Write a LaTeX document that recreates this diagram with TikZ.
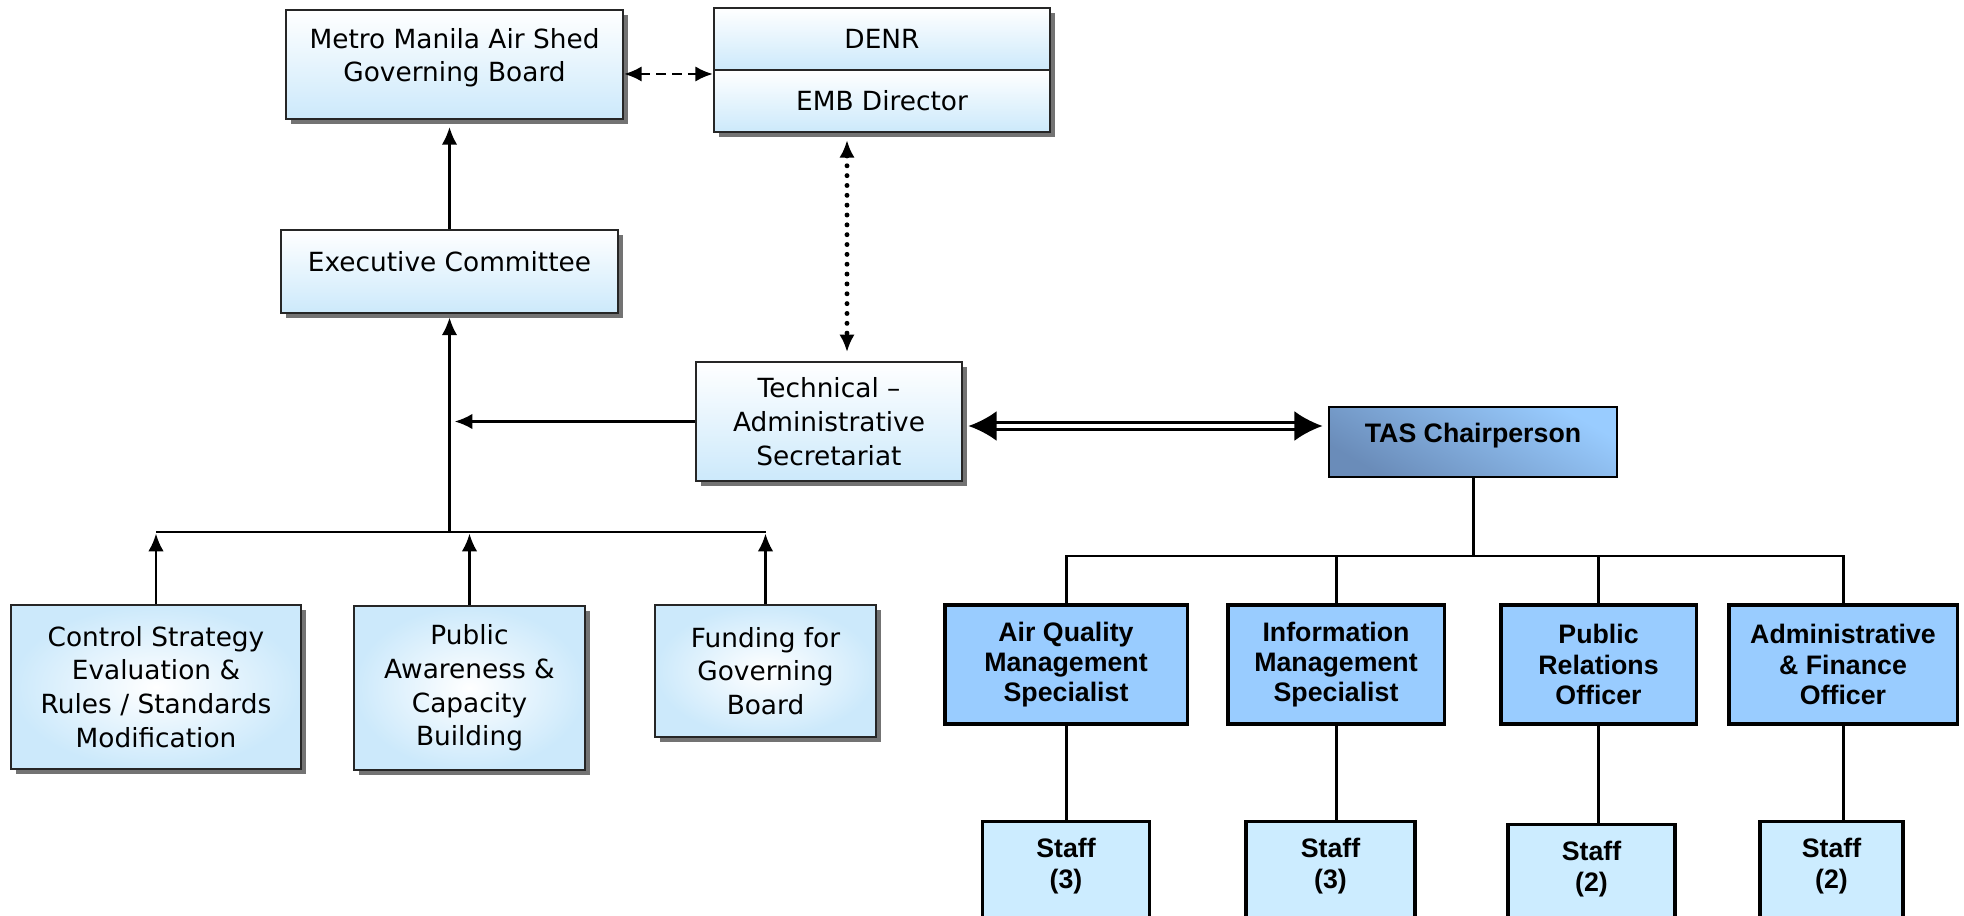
\documentclass[tikz,border=0pt]{standalone}
\usepackage{fontspec}
\setmainfont{DejaVu Sans}
\newfontfamily\arialfont{Liberation Sans}
\usetikzlibrary{arrows.meta,shadows,positioning}

\definecolor{paleblue}{HTML}{CCE9FB}
\definecolor{skyblue}{HTML}{99CCFF}
\definecolor{staffblue}{HTML}{CCECFF}
\definecolor{steelblue}{HTML}{6A8CB9}

\tikzset{
  board/.style={draw=black!85, line width=0.6pt, top color=white, bottom color=paleblue,
    drop shadow={shadow xshift=0.05cm, shadow yshift=-0.05cm, fill=black!55, opacity=1},
    align=center, inner sep=0pt, font=\fontsize{7.5}{9.6}\selectfont},
  panel/.style={board, inner color=white, outer color=paleblue},
  post/.style={draw, line width=0.9pt, fill=skyblue, align=center, inner sep=0pt,
    font=\arialfont\bfseries\fontsize{7.6}{8.6}\selectfont},
  chair/.style={post, line width=0.6pt, top color=skyblue, bottom color=steelblue, shading angle=-30},
  staffbox/.style={post, fill=staffblue, anchor=north, inner ysep=0.17cm, text depth=1cm},
  link/.style={line width=0.6pt},
  feed/.style={link, ->},
  tie/.style={line width=0.85pt},
}

\begin{document}
\begin{tikzpicture}[x=0.01cm, y=-0.01cm, >={Latex[length=5pt,width=4.4pt]}]
    \useasboundingbox (0,0) rectangle (1964,916);
    \clip (0,0) rectangle (1964,916);

    % governing side
    \node[board, minimum width=3.37cm, minimum height=1.09cm, text depth=0.19cm] (metro) at (454.5,64.5) {Metro Manila Air Shed\\Governing Board};
    \node[board, minimum width=3.36cm, minimum height=0.62cm] (denr) at (882,39) {DENR};
    \node[board, minimum width=3.36cm, minimum height=0.62cm] (emb) at (882,101) {EMB Director};
    \node[board, minimum width=3.37cm, minimum height=0.83cm, text depth=0.21cm] (exec) at (449.5,271.5) {Executive Committee};
    \node[board, minimum width=2.66cm, minimum height=1.19cm] (tech) at (829,421.5) {Technical --\\Administrative\\Secretariat};
    \node[panel, minimum width=2.90cm, minimum height=1.64cm] (ctrl) at (156,687) {Control Strategy\\Evaluation \&\\Rules / Standards\\Modification};
    \node[panel, minimum width=2.31cm, minimum height=1.64cm] (pub) at (469.5,688) {Public\\Awareness \&\\Capacity\\Building};
    \node[panel, minimum width=2.21cm, minimum height=1.32cm] (fund) at (765.5,671) {Funding for\\Governing\\Board};

    % secretariat side
    \node[chair, minimum width=2.88cm, minimum height=0.70cm, text depth=0.18cm] (tas) at (1473,442) {TAS Chairperson};
    \node[post, minimum width=2.42cm, minimum height=1.19cm] (aqms) at (1066,664.5) {Air Quality\\Management\\Specialist};
    \node[post, minimum width=2.16cm, minimum height=1.19cm] (ims) at (1336,664.5) {Information\\Management\\Specialist};
    \node[post, minimum width=1.95cm, minimum height=1.19cm] (pro) at (1598.5,664.5) {Public\\Relations\\Officer};
    \node[post, minimum width=2.28cm, minimum height=1.19cm] (afo) at (1843,664.5) {Administrative\\\& Finance\\Officer};
    \node[staffbox, minimum width=1.67cm] (staffA) at (1066,820) {Staff\\(3)};
    \node[staffbox, minimum width=1.69cm] (staffB) at (1330.5,820) {Staff\\(3)};
    \node[staffbox, minimum width=1.67cm] (staffC) at (1591.5,823) {Staff\\(2)};
    \node[staffbox, minimum width=1.43cm] (staffD) at (1831.5,820) {Staff\\(2)};

    \coordinate (hub) at (0,532);
    \coordinate (rail) at (0,556);
    \coordinate (dashrow) at (0,74);
    \coordinate (dblrow) at (0,426);
    \coordinate (dotline) at (847,0);

    \draw[feed, shorten >=2pt] (exec.north) -- (exec.north |- metro.south);
    \draw[line width=0.75pt, dash pattern=on 2.8pt off 1.7pt, <->] (metro.east |- dashrow) -- (emb.west |- dashrow);
    \draw[line width=1.4pt, line cap=round, dash pattern=on 0pt off 2.8pt, <->, shorten <=2pt, shorten >=2.5pt] (emb.south -| dotline) -- (tech.north -| dotline);
    \draw[feed, shorten >=1pt] (exec.south |- hub) -- (exec.south);
    \draw[feed, shorten >=1.5pt] (tech.west) -- (tech.west -| exec.south);
    \draw[link] (ctrl.north |- hub) -- (fund.north |- hub);
    \draw[feed, shorten >=0.5pt] (ctrl.north) -- (ctrl.north |- hub);
    \draw[feed, shorten >=0.5pt] (pub.north) -- (pub.north |- hub);
    \draw[feed, shorten >=0.5pt] (fund.north) -- (fund.north |- hub);
    \draw[line width=0.8pt, double, double distance=1.3pt, {Latex[length=8pt,width=8.5pt]}-{Latex[length=8pt,width=8.5pt]}, shorten <=1.5pt, shorten >=1.5pt] (tech.east |- dblrow) -- (tas.west |- dblrow);

    \draw[tie] (tas.south) -- (tas.south |- rail);
    \draw[tie] (aqms.north) -- (aqms.north |- rail) -- (afo.north |- rail) -- (afo.north);
    \draw[tie] (ims.north) -- (ims.north |- rail);
    \draw[tie] (pro.north) -- (pro.north |- rail);
    \draw[tie] (aqms.south) -- (staffA.north);
    \draw[tie] (ims.south) -- (ims.south |- staffB.north);
    \draw[tie] (pro.south) -- (pro.south |- staffC.north);
    \draw[tie] (afo.south) -- (afo.south |- staffD.north);
\end{tikzpicture}
\end{document}
